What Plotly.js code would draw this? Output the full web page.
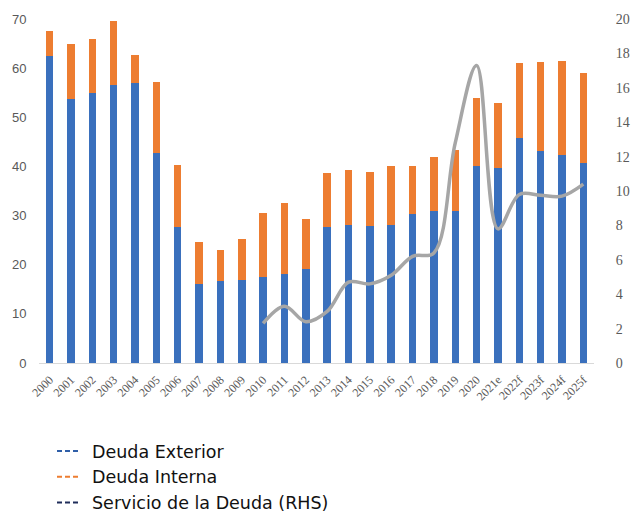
<!DOCTYPE html>
<html>
<head>
<meta charset="utf-8">
<script src="https://cdn.plot.ly/plotly-3.0.1.min.js"></script>
<style>html,body{margin:0;padding:0;background:#fff;}#chart{width:639px;height:513px;}</style>
</head>
<body>
<div id="chart"></div>
<script>
const years = ["2000","2001","2002","2003","2004","2005","2006","2007","2008","2009","2010","2011","2012","2013","2014","2015","2016","2017","2018","2019","2020","2021e","2022f","2023f","2024f","2025f"];
const deudaExterior = [62.4,53.8,55.0,56.6,56.9,42.7,27.7,16.1,16.6,16.9,17.6,18.1,19.2,27.6,28.1,27.9,28.1,30.3,30.9,30.9,40.0,39.7,45.8,43.1,42.4,40.7];
const deudaInterna = [5.1,11.2,11.0,13.0,5.8,14.4,12.5,8.5,6.3,8.4,13.0,14.5,10.2,11.0,11.1,10.9,11.9,9.7,11.1,12.5,13.9,13.3,15.2,18.1,19.0,18.3];
const servicioYears = ["2010","2011","2012","2013","2014","2015","2016","2017","2018","2019","2020","2021e","2022f","2023f","2024f","2025f"];
const servicioDeuda = [2.3,3.3,2.4,3.0,4.7,4.6,5.1,6.2,6.4,12.8,17.3,7.8,9.8,9.75,9.7,10.4];
const leftTicks = [0,10,20,30,40,50,60,70];
const rightTicks = [0,2,4,6,8,10,12,14,16,18,20];
const legendNames = ["Deuda Exterior","Deuda Interna","Servicio de la Deuda (RHS)"];
const legendColors = ["#2f5fa8","#ed7d31","#1f2d5a"];

const traces = [
  {type:"bar", x:years, y:deudaExterior, name:legendNames[0], marker:{color:"#3a70bd"}, showlegend:false, hoverinfo:"skip"},
  {type:"bar", x:years, y:deudaInterna, name:legendNames[1], marker:{color:"#ed7d31"}, showlegend:false, hoverinfo:"skip"},
  {type:"scatter", mode:"lines", x:servicioYears, y:servicioDeuda, yaxis:"y2", name:legendNames[2],
   line:{color:"#a6a6a6", width:3.5, shape:"spline", smoothing:1}, showlegend:false, hoverinfo:"skip"}
];
legendNames.forEach((n,i)=>{
  traces.push({type:"scatter", mode:"lines", x:[null], y:[null], name:n,
    line:{color:legendColors[i], width:2, dash:"5px,3px,5px,3px,5px,40px"}, showlegend:true});
});

const layout = {
  width:639, height:513,
  margin:{l:39, r:45, t:19, b:150, autoexpand:false},
  paper_bgcolor:"#fff", plot_bgcolor:"#fff",
  barmode:"stack", bargap:0.65,
  showlegend:true,
  legend:{xref:"container", yref:"container", x:52/639, y:1-433/513, xanchor:"left", yanchor:"top",
    font:{family:"DejaVu Sans, sans-serif", size:17.5, color:"#111"}, bgcolor:"rgba(0,0,0,0)", traceorder:"normal", itemwidth:30, tracegroupgap:0},
  xaxis:{type:"category", categoryorder:"array", categoryarray:years, tickmode:"array", tickvals:years, ticktext:years, tickangle:-45,
    tickfont:{family:"Liberation Serif, serif", size:12, color:"#595959"},
    showline:true, linecolor:"#d9d9d9", linewidth:1, showgrid:false, zeroline:false,
    ticks:"outside", ticklen:4, tickcolor:"rgba(0,0,0,0)", automargin:false},
  yaxis:{range:[0,70], tickvals:leftTicks, showgrid:false, zeroline:false, showline:false,
    ticks:"outside", ticklen:9, tickcolor:"rgba(0,0,0,0)", automargin:false,
    tickfont:{family:"Liberation Sans, sans-serif", size:13, color:"#595959"}},
  yaxis2:{overlaying:"y", side:"right", range:[0,20], tickvals:rightTicks, showgrid:false, zeroline:false, showline:false,
    ticks:"outside", ticklen:18, tickcolor:"rgba(0,0,0,0)", automargin:false,
    tickfont:{family:"Liberation Serif, serif", size:14, color:"#595959"}}
};
Plotly.newPlot("chart", traces, layout, {staticPlot:true});
</script>
</body>
</html>
